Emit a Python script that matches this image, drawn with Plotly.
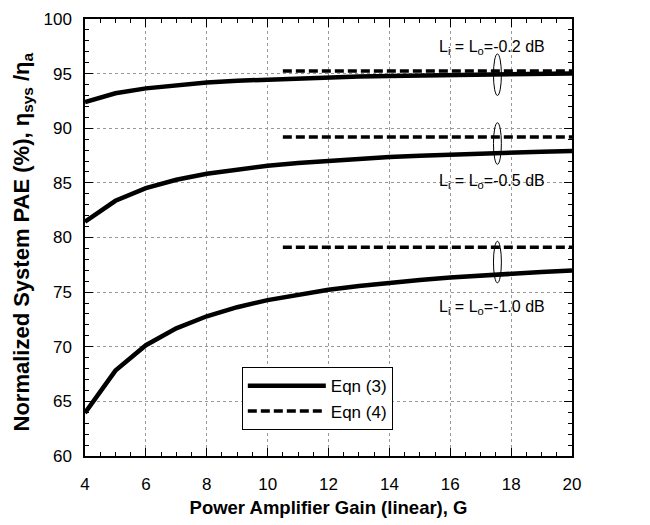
import plotly.graph_objects as go

gain = [4, 5, 6, 7, 8, 9, 10, 11, 12, 13, 14, 15, 16, 17, 18, 19, 20]
eqn3_02 = [92.4, 93.2, 93.65, 93.96, 94.18, 94.35, 94.47, 94.58, 94.66, 94.73, 94.79, 94.84, 94.88, 94.92, 94.96, 94.99, 95.01]
eqn3_05 = [81.44, 83.36, 84.52, 85.29, 85.83, 86.25, 86.57, 86.82, 87.03, 87.21, 87.36, 87.48, 87.59, 87.69, 87.77, 87.85, 87.92]
eqn3_10 = [63.94, 67.82, 70.14, 71.69, 72.79, 73.62, 74.27, 74.78, 75.21, 75.56, 75.86, 76.11, 76.33, 76.53, 76.70, 76.85, 76.99]

eqn4_x = [10.5, 20]
eqn4_02 = [95.25, 95.25]
eqn4_05 = [89.2, 89.2]
eqn4_10 = [79.1, 79.1]

labels = ["L<sub>i</sub> = L<sub>o</sub>=-0.2 dB", "L<sub>i</sub> = L<sub>o</sub>=-0.5 dB", "L<sub>i</sub> = L<sub>o</sub>=-1.0 dB"]
label_y = [97.4, 85.1, 73.6]
ellipse_x = [17.55, 17.55, 17.55]
ellipse_y = [94.9, 88.6, 77.75]

y_title = "<b>Normalized System PAE (%), η<sub>sys</sub> /η<sub>a</sub></b>"
x_title = "<b>Power Amplifier Gain (linear), G</b>"

FONT = "Liberation Sans, Arial, sans-serif"

fig = go.Figure()
solid = dict(color="black", width=4.5)
dashed = dict(color="black", width=3.5, dash="9px,4px")

for i, ys in enumerate([eqn3_02, eqn3_05, eqn3_10]):
    fig.add_trace(go.Scatter(x=gain, y=ys, mode="lines", line=solid,
                             name="Eqn (3)", legendgroup="e3", showlegend=(i == 0)))
for i, ys in enumerate([eqn4_02, eqn4_05, eqn4_10]):
    fig.add_trace(go.Scatter(x=eqn4_x, y=ys, mode="lines", line=dashed,
                             name="Eqn (4)", legendgroup="e4", showlegend=(i == 0)))

for ex, ey in zip(ellipse_x, ellipse_y):
    fig.add_shape(type="circle", xref="x", yref="y",
                  x0=ex - 0.13, x1=ex + 0.13, y0=ey - 1.9, y1=ey + 1.9,
                  line=dict(color="black", width=1))

for txt, ly in zip(labels, label_y):
    fig.add_annotation(x=19.18, y=ly, xref="x", yref="y", text=txt, showarrow=False,
                       xanchor="right", yanchor="middle",
                       font=dict(family=FONT, size=16, color="black"))

fig.add_annotation(x=0, y=0.5, xref="paper", yref="paper", text=y_title, showarrow=False,
                   textangle=-90, xanchor="center", yanchor="middle", xshift=-63, yshift=-5,
                   font=dict(family=FONT, size=22, color="black"))

axis_common = dict(
    showline=True, linecolor="black", linewidth=1.5, mirror="allticks",
    ticks="inside", ticklen=8, tickwidth=1, tickcolor="black",
    showgrid=True, gridcolor="#999", gridwidth=1, griddash="dot",
    zeroline=False, tickfont=dict(family=FONT, size=17, color="black"),
    ticklabeloverflow="allow",
)

fig.update_xaxes(range=[4, 20], dtick=2, tick0=4,
                 minor=dict(dtick=0.5, ticks="inside", ticklen=4, tickcolor="black", showgrid=False),
                 title=dict(text=x_title, font=dict(family=FONT, size=18.5, color="black"), standoff=8),
                 ticklabelstandoff=12, **axis_common)
fig.update_yaxes(range=[60, 100], dtick=5, tick0=60,
                 minor=dict(dtick=1, ticks="inside", ticklen=4, tickcolor="black", showgrid=False),
                 ticklabelstandoff=8, **axis_common)

fig.update_layout(
    width=650, height=525,
    margin=dict(l=77, r=86, t=11, b=77, autoexpand=False),
    paper_bgcolor="white", plot_bgcolor="white",
    font=dict(family=FONT, color="black"),
    legend=dict(x=0.322, y=0.203, xanchor="left", yanchor="top",
                bordercolor="black", borderwidth=1, bgcolor="white",
                itemwidth=78, font=dict(family=FONT, size=17, color="black"),
                tracegroupgap=0),
)

fig.write_html("out.html")
